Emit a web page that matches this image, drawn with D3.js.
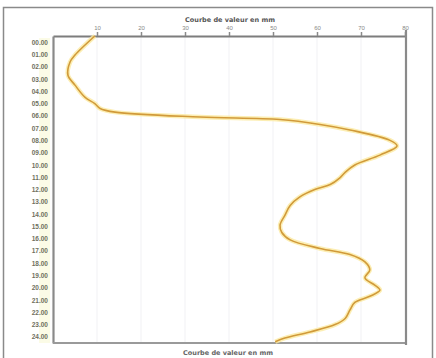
<!DOCTYPE html>
<html><head><meta charset="utf-8">
<script src="https://cdn.jsdelivr.net/npm/d3@7"></script>
<style>html,body{margin:0;padding:0;background:#fff;}svg{display:block;font-family:"DejaVu Sans",sans-serif;}</style>
</head><body>
<svg id="c" width="436" height="358"></svg>
<script>
// ---- data ----
const xTicks = [10, 20, 30, 40, 50, 60, 70, 80];
const xTickLabels = ["10", "20", "30", "40", "50", "60", "70", "80"];
const yTicks = [0.5,1.5,2.5,3.5,4.5,5.5,6.5,7.5,8.5,9.5,10.5,11.5,12.5,13.5,14.5,15.5,16.5,17.5,18.5,19.5,20.5,21.5,22.5,23.5,24.5];
const yTickLabels = ["00.00","01.00","02.00","03.00","04.00","05.00","06.00","07.00","08.00","09.00","10.00","11.00","12.00","13.00","14.00","15.00","16.00","17.00","18.00","19.00","20.00","21.00","22.00","23.00","24.00"];
const depth = [0,1.55,2.1,3.2,4.0,5.0,5.5,5.9,6.2,6.6,6.8,7.2,7.65,8.5,8.95,9.7,10.5,11.1,11.55,12.1,12.5,13.1,13.8,14.6,15.4,16.0,16.6,17.3,17.8,18.4,19.05,19.7,20.3,20.7,21.2,21.7,22.3,23.0,23.5,24.1,24.6,24.9];
const values = [9.5,5.0,3.9,3.4,5.0,7.3,9.5,10.7,14.1,33.4,51.6,60.7,67.5,76.6,78.2,74.3,68.6,66.4,65.2,63.0,59.5,56.1,53.9,52.7,51.6,52.0,53.9,60.7,67.5,70.9,72.0,70.9,73.2,74.3,72.0,68.6,67.5,66.4,64.1,58.4,52.7,50.5];
const topTitle = "Courbe de valeur en mm";
const bottomTitle = "Courbe de valeur en mm";

// ---- layout ----
const svg = d3.select("#c");
const L = 53, T = 36, R = 405, B = 343;
const x = d3.scaleLinear().domain([0, 80]).range([L, R]);
const y = d3.scaleLinear().domain([0, 25]).range([T, B]);

// outer frame
svg.append("rect").attr("x", 3.5).attr("y", 7.5).attr("width", 429).attr("height", 360)
  .attr("fill", "none").attr("stroke", "#8a8a8a").attr("stroke-width", 1.5);

// pale label strip
svg.append("rect").attr("x", 39).attr("y", 38).attr("width", 11).attr("height", 305).attr("fill", "#fbfbe6");

// faint vertical gridlines
svg.append("g").selectAll("line").data(xTicks.slice(0, 7)).join("line")
  .attr("x1", d => x(d)).attr("x2", d => x(d)).attr("y1", T).attr("y2", B)
  .attr("stroke", "#f1f1f4").attr("stroke-width", 1);

// top axis
const topAxis = d3.axisTop(x).tickValues(xTicks).tickFormat((d, i) => xTickLabels[i]).tickSize(4).tickSizeOuter(0);
const gt = svg.append("g").attr("transform", `translate(0,${T})`).call(topAxis);
gt.select(".domain").attr("stroke", "#7d7d7d").attr("stroke-width", 2.2);
gt.selectAll(".tick line").attr("stroke", "#8a8a8a").attr("stroke-width", 1.5);
gt.selectAll(".tick text").attr("font-size", 6).attr("fill", "#888").attr("dy", "0.1em");

// left axis
const leftAxis = d3.axisLeft(y).tickValues(yTicks).tickFormat((d, i) => yTickLabels[i]).tickSize(0).tickPadding(5).tickSizeOuter(0);
const gl = svg.append("g").attr("transform", `translate(${L},0)`).call(leftAxis);
gl.select(".domain").attr("stroke", "#8a8a8a").attr("stroke-width", 2.2);
gl.selectAll(".tick text").attr("font-size", 6.5).attr("fill", "#6f7060").attr("font-weight", "bold");

// bottom and right frame lines
svg.append("line").attr("x1", L).attr("x2", R + 1).attr("y1", B).attr("y2", B).attr("stroke", "#9a9a9a").attr("stroke-width", 2);
svg.append("line").attr("x1", R + 1).attr("x2", R + 1).attr("y1", T - 6).attr("y2", B + 2).attr("stroke", "#8a8a8a").attr("stroke-width", 2.2);

// titles
svg.append("text").attr("x", 230).attr("y", 22).attr("text-anchor", "middle").attr("font-size", 6.5)
  .attr("font-weight", "bold").attr("fill", "#555").text(topTitle);
svg.append("text").attr("x", 228).attr("y", 355).attr("text-anchor", "middle").attr("font-size", 6.5)
  .attr("font-weight", "bold").attr("fill", "#666").text(bottomTitle);

// line
const pts = depth.map((d, i) => [values[i], d]);
const line = d3.line().x(d => x(d[0])).y(d => y(d[1])).curve(d3.curveCatmullRom.alpha(0.5));
svg.append("path").datum(pts).attr("d", line).attr("fill", "none")
  .attr("stroke", "#fbeaa0").attr("stroke-width", 4.5).attr("stroke-opacity", 0.8).attr("stroke-linejoin", "round");
svg.append("path").datum(pts).attr("d", line).attr("fill", "none")
  .attr("stroke", "#d19a3a").attr("stroke-width", 1.6).attr("stroke-linejoin", "round");
</script>
</body></html>
